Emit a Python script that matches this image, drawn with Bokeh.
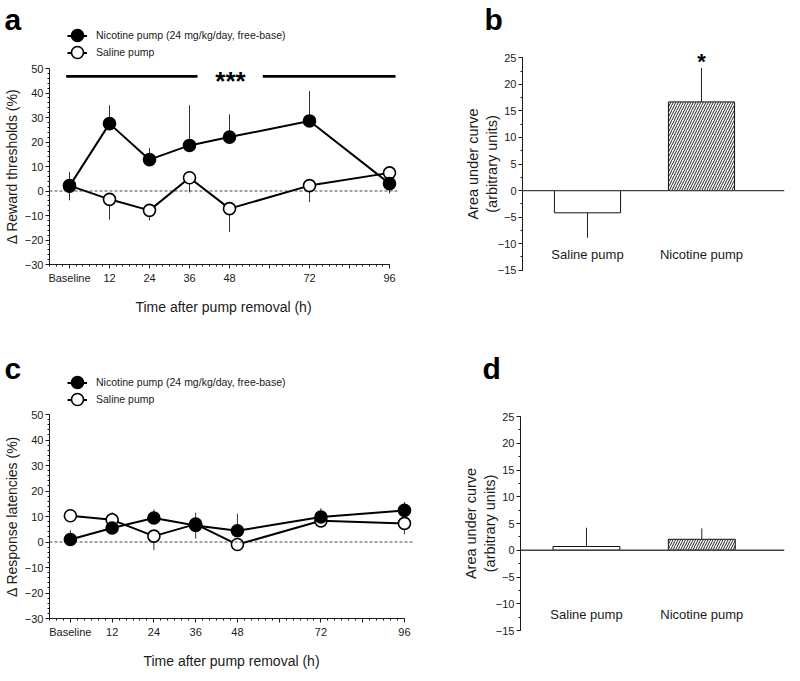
from bokeh.plotting import figure
from bokeh.layouts import column, row
from bokeh.models import (ColumnDataSource, Span, Label, LabelSet, Legend, LegendItem,
                          FixedTicker, SingleIntervalTicker, Range1d)
from bokeh.core.properties import value
from bokeh.embed import file_html
from bokeh.resources import INLINE

FONT = "Liberation Sans"
INK = "#1a1a1a"

# ---------------- data ----------------
time_h = [0, 12, 24, 36, 48, 72, 96]
xtick_values = [0, 12, 24, 36, 48, 60, 72, 84, 96]
xtick_labels = ["Baseline", "12", "24", "36", "48", "", "72", "", "96"]

nic_label = "Nicotine pump (24 mg/kg/day, free-base)"
sal_label = "Saline pump"

# panel a: reward thresholds
thr_nic_mean = [2.0, 27.5, 12.8, 18.6, 22.0, 28.6, 3.0]
thr_nic_sem = [5.8, 7.5, 4.7, 16.4, 9.3, 12.2, 4.0]
thr_nic_dir = [1, 1, 1, 1, 1, 1, -1]
thr_sal_mean = [2.2, -3.4, -7.9, 5.4, -7.2, 2.2, 7.4]
thr_sal_sem = [6.0, 8.3, 4.1, 6.0, 9.5, 6.7, 1.5]
thr_sal_dir = [-1, -1, -1, -1, -1, -1, 1]
thr_sig_text = "***"
thr_sig_x = 48.3
thr_sig_y = 46.8
thr_sig_bars = [(-1.0, 38.4), (58.0, 97.8)]

# panel c: response latencies
lat_nic_mean = [1.0, 5.5, 9.4, 6.5, 4.4, 9.8, 12.4]
lat_nic_sem = [3.6, 2.0, 3.4, 5.2, 6.7, 3.5, 3.3]
lat_nic_dir = [1, -1, 1, -1, 1, 1, 1]
lat_sal_mean = [10.3, 8.7, 2.3, 7.0, -1.0, 8.3, 7.3]
lat_sal_sem = [1.5, 3.0, 5.5, 4.5, 1.0, 2.4, 4.3]
lat_sal_dir = [1, 1, -1, 1, -1, -1, -1]

# panels b, d: area under curve
auc_groups = ["Saline pump", "Nicotine pump"]
auc_pos = [0, 1]
auc_hatch = ["", "/"]
auc_thr_mean = [-4.2, 16.7]
auc_thr_sem = [4.7, 6.4]
auc_thr_dir = [-1, 1]
auc_thr_sig = ["", "*"]
auc_lat_mean = [0.7, 2.05]
auc_lat_sem = [3.5, 2.05]
auc_lat_dir = [1, 1]
auc_lat_sig = ["", ""]


def base_fig(fw, fh, bl, br, bt, bb, xr, yr):
    return figure(frame_width=fw, frame_height=fh,
                  min_border_left=bl, min_border_right=br, min_border_top=bt,
                  min_border_bottom=bb, x_range=Range1d(*xr), y_range=Range1d(*yr),
                  output_backend="svg", toolbar_location=None, frame_align=False)


def style(p):
    p.grid.visible = False
    p.outline_line_color = None
    p.background_fill_color = "white"
    p.border_fill_alpha = 0
    for ax in p.axis:
        ax.axis_line_color = INK
        ax.axis_line_width = 1
        ax.major_tick_line_color = INK
        ax.minor_tick_line_color = INK
        ax.major_tick_in = 0
        ax.major_tick_out = 4
        ax.minor_tick_in = 0
        ax.minor_tick_out = 2
        ax.major_label_text_font = FONT
        ax.major_label_text_font_size = "11px"
        ax.major_label_text_color = INK
        ax.axis_label_text_font = FONT
        ax.axis_label_text_font_size = "14px"
        ax.axis_label_text_font_style = "normal"
        ax.axis_label_text_color = INK


def header(w, h, letter, lx, ly, legend_spec=None):
    p = figure(width=w, height=h, min_border_left=0, min_border_right=0, min_border_top=0,
               min_border_bottom=0, x_range=Range1d(0, w), y_range=Range1d(0, h),
               x_axis_type=None, y_axis_type=None, output_backend="svg",
               toolbar_location=None, frame_align=False)
    p.outline_line_color = None
    p.background_fill_color = "white"
    p.border_fill_color = "white"
    p.add_layout(Label(x=lx, y=ly, x_units="screen", y_units="screen", text=letter,
                       text_font=FONT, text_font_size="30px", text_font_style="bold",
                       text_color="black", text_align="left", text_baseline="alphabetic"))
    if legend_spec is not None:
        leg_xy, mk1_xy, mk2_xy = legend_spec
        # legend key renderers: a single point kept outside the visible range
        ln = p.line(x=[-50, -40], y=[-50, -50], line_color="black", line_width=2)
        ls = p.line(x=[-50, -40], y=[-50, -50], line_color="black", line_width=2)
        cn = p.scatter(x=[-50], y=[-50], marker="circle", fill_color="black",
                       line_color="black", line_width=1.6)
        cs = p.scatter(x=[-50], y=[-50], marker="circle", fill_color="white",
                       line_color="black", line_width=1.6)
        leg = Legend(items=[LegendItem(label=nic_label, renderers=[ln]),
                            LegendItem(label=sal_label, renderers=[ls])],
                     location=leg_xy, glyph_width=20, glyph_height=17, label_height=17,
                     label_standoff=9, spacing=0, padding=0, margin=0,
                     border_line_color=None, background_fill_alpha=0,
                     label_text_font=FONT, label_text_font_size="10.5px",
                     label_text_color=INK, label_text_baseline="middle")
        p.add_layout(leg)
        for r, xy in ((cn, mk1_xy), (cs, mk2_xy)):
            lg = Legend(items=[LegendItem(label=" ", renderers=[r])], location=xy,
                        glyph_width=30, glyph_height=30, label_height=30, label_width=0,
                        label_standoff=0, spacing=0, padding=0, margin=0,
                        border_line_color=None, background_fill_alpha=0,
                        label_text_font_size="1px")
            p.add_layout(lg)
    return p


def line_panel(nm, ns, nd, sm, ss, sd, ylabel, fw, fh, bl, br, bt, bb, xend):
    p = base_fig(fw, fh, bl, br, bt, bb, (-6, xend), (-30, 50))
    p.add_layout(Span(location=0, dimension="width", line_color=INK, line_width=0.8,
                      line_dash="3 2"))
    for m, s, d in ((nm, ns, nd), (sm, ss, sd)):
        src = ColumnDataSource(dict(x=time_h, y0=m,
                                    y1=[mi + di * si for mi, si, di in zip(m, s, d)]))
        p.segment(x0="x", y0="y0", x1="x", y1="y1", source=src, line_color="#333333",
                  line_width=1)
    p.line(time_h, nm, line_color="black", line_width=2)
    p.line(time_h, sm, line_color="black", line_width=2)
    p.scatter(time_h, sm, size=12, marker="circle", fill_color="white",
              line_color="black", line_width=1.6)
    p.scatter(time_h, nm, size=12, marker="circle", fill_color="black",
              line_color="black", line_width=1.6)

    p.xaxis.ticker = FixedTicker(ticks=xtick_values, minor_ticks=list(range(-6, 97, 2)))
    p.xaxis.major_label_overrides = {v: l for v, l in zip(xtick_values, xtick_labels)}
    p.xaxis.bounds = (-6, 96)
    p.xaxis.axis_label = "Time after pump removal (h)"
    p.yaxis.ticker = SingleIntervalTicker(interval=10, num_minor_ticks=5)
    p.yaxis.bounds = (-30, 50)
    p.yaxis.axis_label = ylabel
    style(p)
    p.xaxis.major_label_standoff = 3
    p.xaxis.axis_label_standoff = 12
    p.yaxis.major_label_standoff = 2
    p.yaxis.axis_label_standoff = 2
    return p


def bar_panel(means, sems, dirs, sigs, fw, fh, bl, br, bt, bb, xr, yr):
    p = base_fig(fw, fh, bl, br, bt, bb, xr, yr)
    src = ColumnDataSource(dict(x=auc_pos, top=means, hatch=auc_hatch,
                                y1=[m + d * s for m, s, d in zip(means, sems, dirs)],
                                sig=sigs, name=auc_groups))
    p.segment(x0="x", y0="top", x1="x", y1="y1", source=src, line_color="#222222",
              line_width=1)
    p.vbar(x="x", top="top", bottom=0, width=0.58, source=src, fill_color="white",
           line_color="#111111", line_width=1, hatch_pattern="hatch", hatch_color="#222222",
           hatch_scale=5, hatch_weight=1)
    p.add_layout(Span(location=0, dimension="width", line_color="#444444", line_width=1.3))
    p.text(x="x", y=-12, text="name", source=src, text_font=value(FONT),
           text_font_size="13px", text_align="center", text_baseline="middle", text_color=INK)
    p.add_layout(LabelSet(x="x", y="y1", text="sig", source=src, text_font=value(FONT),
                          text_font_size="22px", text_font_style="bold", text_align="center",
                          text_baseline="alphabetic", y_offset=-1, text_color="black"))
    p.xaxis.visible = False
    p.yaxis.ticker = SingleIntervalTicker(interval=5, num_minor_ticks=2)
    p.yaxis.bounds = (-15, 25)
    p.yaxis.axis_label = "Area under curve\n(arbitrary units)"
    style(p)
    p.yaxis.axis_label_text_font_size = "14.5px"
    p.yaxis.major_label_standoff = 2
    p.yaxis.axis_label_standoff = -5
    return p


# ---- row 1 ----
ha = header(400, 61, "a", 4, 42, ((67, 0.5), (62, 11), (62, -6)))
pa = line_panel(thr_nic_mean, thr_nic_sem, thr_nic_dir, thr_sal_mean, thr_sal_sem, thr_sal_dir,
                "\u0394 Reward thresholds (%)", 348, 196, 42, 10, 7, 50, 98.4)
sig_y = [thr_sig_y, thr_sig_y]
pa.segment(x0=[b[0] for b in thr_sig_bars], x1=[b[1] for b in thr_sig_bars], y0=sig_y, y1=sig_y,
           line_color="black", line_width=2.6)
pa.add_layout(Label(x=thr_sig_x, y=thr_sig_y, text=thr_sig_text, text_font=FONT,
                    text_font_size="26px", text_font_style="bold", text_align="center",
                    text_baseline="alphabetic", y_offset=-5, text_color="black"))

hb = header(384, 50, "b", 77, 31)
pb = bar_panel(auc_thr_mean, auc_thr_sem, auc_thr_dir, auc_thr_sig, 262, 225, 115, 7, 1, 38,
               (-0.570, 1.728), (-16.2, 26.2))

# ---- row 2 ----
hc = header(410, 92, "c", 4, 41, ((67, 1.5), (62, 12), (62, -5)))
pc = line_panel(lat_nic_mean, lat_nic_sem, lat_nic_dir, lat_sal_mean, lat_sal_sem, lat_sal_dir,
                "\u0394 Response latencies (%)", 364, 204, 44, 2, 5, 57, 98.6)

hd = header(374, 94, "d", 67, 43)
pd = bar_panel(auc_lat_mean, auc_lat_sem, auc_lat_dir, auc_lat_sig, 264, 214, 105, 5, 5, 45,
               (-0.572, 1.717), (-15, 25))

layout = column(row(column(ha, pa, spacing=0), column(hb, pb, spacing=0), spacing=0),
                row(column(hc, pc, spacing=0), column(hd, pd, spacing=0), spacing=0),
                spacing=0)
open("out.html", "w").write(file_html(layout, INLINE))
